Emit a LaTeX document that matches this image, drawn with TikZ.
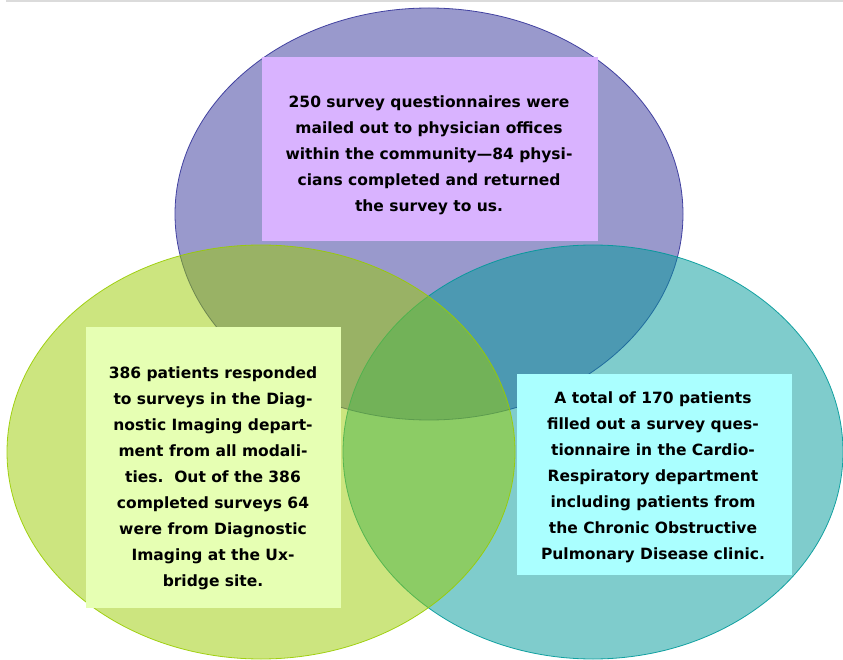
\documentclass[tikz,border=0pt]{standalone}
\usepackage{fontspec}
\setmainfont{DejaVu Sans}
\usetikzlibrary{positioning}
\definecolor{physset}{HTML}{333399}
\definecolor{imgset}{HTML}{99CC00}
\definecolor{cardset}{HTML}{009999}
\definecolor{physfill}{HTML}{D9B3FF}
\definecolor{imgfill}{HTML}{E6FFB3}
\definecolor{cardfill}{HTML}{AAFFFF}

\begin{document}
\begin{tikzpicture}[x=1pt,y=-1pt,
 set/.style={draw=#1,fill=#1,fill opacity=0.5,draw opacity=0.9,line width=0.8pt},
 box/.style={fill=#1,inner sep=0pt},
 txt/.style={font=\bfseries\fontsize{15.5}{26}\selectfont,align=center,inner sep=0pt}]
\useasboundingbox (0,0) rectangle (843,660);
\fill[black!14] (6,0) rectangle (843,2.5);
% the three survey groups
\draw[set=physset] (429,214) ellipse [x radius=254,y radius=206];
\draw[set=cardset] (593,452) ellipse [x radius=250,y radius=207];
\draw[set=imgset] (261,452) ellipse [x radius=254,y radius=207];
% text panels
\node[box=physfill,minimum width=336pt,minimum height=184pt](physbox) at (430,149){};
\node[box=imgfill,minimum width=255pt,minimum height=281pt](imgbox) at (213.5,467.5){};
\node[box=cardfill,minimum width=275pt,minimum height=201pt](cardbox) at (654.5,474.5){};
\node[txt](phystext) at (429,155){250 survey questionnaires were\\mailed out to physician offices\\within the community---84 physi-\\cians completed and returned\\the survey to us.};
\node[txt](imgtext) at (213,478){386 patients responded\\to surveys in the Diag-\\nostic Imaging depart-\\ment from all modali-\\ties.\ \ Out of the 386\\completed surveys 64\\were from Diagnostic\\Imaging at the Ux-\\bridge site.};
\node[txt](cardtext) at (653,477){A total of 170 patients\\filled out a survey ques-\\tionnaire in the Cardio-\\Respiratory department\\including patients from\\the Chronic Obstructive\\Pulmonary Disease clinic.};
\end{tikzpicture}
\end{document}
